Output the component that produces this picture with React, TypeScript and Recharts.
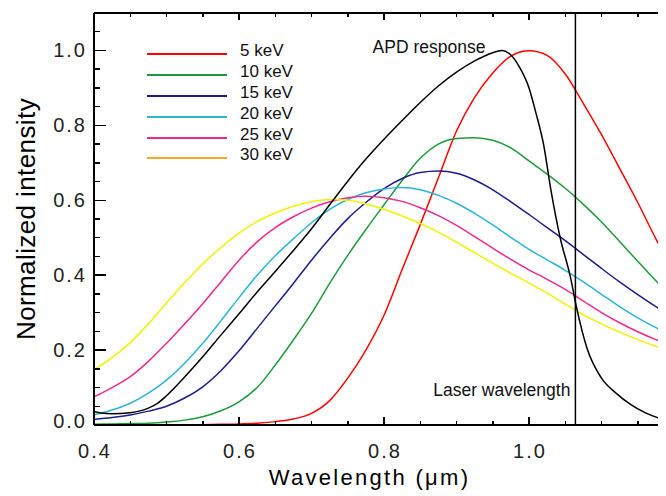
import React from "react";
import { LineChart, Line, XAxis, YAxis, ReferenceLine, ReferenceDot, Legend } from "recharts";

// wavelength grid (µm) for the X-ray spectra
const wavelengths = [0.4, 0.425, 0.45, 0.475, 0.5, 0.525, 0.55, 0.575, 0.6, 0.625, 0.65, 0.675, 0.7, 0.725, 0.75, 0.775, 0.8, 0.825, 0.85, 0.875, 0.9, 0.925, 0.95, 0.975, 1.0, 1.025, 1.05, 1.075, 1.1, 1.125, 1.15, 1.175, 1.2];

const kev5 = [0, 0, 0, 0, 0, 0, 0.001, 0.002, 0.003, 0.005, 0.009, 0.016, 0.031, 0.065, 0.125, 0.2, 0.293, 0.415, 0.535, 0.66, 0.785, 0.875, 0.94, 0.985, 0.999, 0.987, 0.937, 0.858, 0.775, 0.685, 0.594, 0.497, 0.405];
const kev10 = [0.002, 0.003, 0.004, 0.005, 0.008, 0.013, 0.022, 0.038, 0.062, 0.1, 0.16, 0.227, 0.298, 0.378, 0.453, 0.522, 0.588, 0.653, 0.712, 0.75, 0.765, 0.767, 0.76, 0.74, 0.705, 0.67, 0.632, 0.589, 0.542, 0.49, 0.437, 0.385, 0.335];
const kev15 = [0.015, 0.02, 0.027, 0.037, 0.05, 0.072, 0.102, 0.145, 0.198, 0.258, 0.318, 0.378, 0.44, 0.498, 0.551, 0.594, 0.631, 0.658, 0.674, 0.678, 0.672, 0.654, 0.628, 0.596, 0.562, 0.527, 0.492, 0.455, 0.418, 0.382, 0.348, 0.316, 0.288];
const kev20 = [0.027, 0.04, 0.058, 0.085, 0.12, 0.165, 0.218, 0.278, 0.34, 0.4, 0.452, 0.497, 0.54, 0.576, 0.602, 0.62, 0.63, 0.634, 0.628, 0.613, 0.592, 0.565, 0.534, 0.501, 0.469, 0.441, 0.413, 0.382, 0.349, 0.316, 0.286, 0.26, 0.238];
const kev25 = [0.075, 0.1, 0.129, 0.17, 0.218, 0.27, 0.324, 0.382, 0.44, 0.489, 0.527, 0.556, 0.579, 0.596, 0.607, 0.611, 0.607, 0.597, 0.58, 0.559, 0.533, 0.503, 0.472, 0.442, 0.414, 0.389, 0.362, 0.331, 0.3, 0.273, 0.249, 0.228, 0.21];
const kev30 = [0.147, 0.18, 0.22, 0.27, 0.326, 0.38, 0.43, 0.474, 0.512, 0.543, 0.566, 0.584, 0.596, 0.602, 0.6, 0.59, 0.576, 0.558, 0.538, 0.515, 0.488, 0.46, 0.432, 0.405, 0.379, 0.352, 0.323, 0.294, 0.27, 0.248, 0.228, 0.21, 0.192];

// APD response has its own sampling
const apdWavelengths = [0.4, 0.41, 0.425, 0.45, 0.475, 0.487, 0.5, 0.525, 0.55, 0.575, 0.6, 0.625, 0.65, 0.675, 0.7, 0.725, 0.75, 0.775, 0.8, 0.825, 0.85, 0.875, 0.9, 0.925, 0.95, 0.962, 0.975, 0.987, 1.0, 1.01, 1.02, 1.03, 1.043, 1.057, 1.066, 1.08, 1.1, 1.12, 1.14, 1.16, 1.18, 1.2];
const apdResponse = [0.036, 0.032, 0.03, 0.033, 0.045, 0.057, 0.078, 0.128, 0.182, 0.24, 0.297, 0.355, 0.41, 0.466, 0.524, 0.588, 0.651, 0.71, 0.763, 0.813, 0.861, 0.905, 0.942, 0.972, 0.994, 1.0, 0.988, 0.955, 0.9, 0.83, 0.75, 0.63, 0.5, 0.396, 0.31, 0.205, 0.125, 0.085, 0.055, 0.033, 0.018, 0.01];
const apdPeak = 0.962;
const laserWavelength = 1.064;

const seriesNames = ["5 keV", "10 keV", "15 keV", "20 keV", "25 keV", "30 keV"];
const seriesValues = [kev5, kev10, kev15, kev20, kev25, kev30];
const lineColors = ["#ff0000", "#1e9a3c", "#1c1c8a", "#2ab4d6", "#f0288c", "#f2f200"];
const legendColors = ["#ff0000", "#1e9a3c", "#1c1c8a", "#2ab4d6", "#f0288c", "#f8a828"];

// labelled ticks
const xLabelTicks = [0.4, 0.6, 0.8, 1.0];
const yLabelTicks = [0, 0.2, 0.4, 0.6, 0.8, 1.0];
// tick marks on the frame: every 0.05, long every 0.2
const xTickMarks = [0.4, 0.45, 0.5, 0.55, 0.6, 0.65, 0.7, 0.75, 0.8, 0.85, 0.9, 0.95, 1.0, 1.05, 1.1, 1.15, 1.2];
const yTickMarks = [0, 0.05, 0.1, 0.15, 0.2, 0.25, 0.3, 0.35, 0.4, 0.45, 0.5, 0.55, 0.6, 0.65, 0.7, 0.75, 0.8, 0.85, 0.9, 0.95, 1.0, 1.05];

const spectra = wavelengths.map((w, i) => {
  const row: Record<string, number> = { w };
  seriesValues.forEach((vals, s) => {
    row[`s${s}`] = vals[i];
  });
  return row;
});
const apdData = apdWavelengths.map((w, i) => ({ w, apd: apdResponse[i] }));

const font = "'Liberation Sans', Arial, Helvetica, sans-serif";
const X_DOMAIN: [number, number] = [0.4, 1.2];
const Y_DOMAIN: [number, number] = [0, 1.1];
const W = 680;
const H = 488;
const MARGIN = { top: 5, right: 14, bottom: 31, left: 26 };
const X_AXIS_H = 40;
const Y_AXIS_W = 60;
const PLOT_LEFT = MARGIN.left + Y_AXIS_W;
const PLOT_TOP = MARGIN.top;
const PLOT_W = W - MARGIN.left - MARGIN.right - Y_AXIS_W;
const PLOT_H = H - MARGIN.top - MARGIN.bottom - X_AXIS_H;

const isMajor = (v: number) => Math.abs(v / 0.2 - Math.round(v / 0.2)) < 1e-6;
const xPos = (v: number) => PLOT_LEFT + ((v - X_DOMAIN[0]) / (X_DOMAIN[1] - X_DOMAIN[0])) * PLOT_W;
const yPos = (v: number) => PLOT_TOP + ((Y_DOMAIN[1] - v) / (Y_DOMAIN[1] - Y_DOMAIN[0])) * PLOT_H;

// inward frame ticks (IDL style) drawn as a thin overlay on the plot frame
const FrameTicks = () => {
  const marks: React.ReactNode[] = [];
  const bar = (key: string, left: number, top: number, width: number, height: number) =>
    marks.push(<div key={key} style={{ position: "absolute", left, top, width, height, background: "#000" }} />);
  xTickMarks.forEach((v) => {
    const x = xPos(v) - 0.75;
    const major = isMajor(v);
    bar(`b${v}`, x, PLOT_TOP + PLOT_H - (major ? 8 : 4), 1.5, major ? 8 : 4);
    bar(`t${v}`, x, PLOT_TOP, 1.5, major ? 7 : 3.5);
  });
  yTickMarks.forEach((v) => {
    const y = yPos(v) - 0.75;
    const len = isMajor(v) ? 12 : 6;
    bar(`l${v}`, PLOT_LEFT, y, len, 1.5);
    bar(`r${v}`, PLOT_LEFT + PLOT_W - len, y, len, 1.5);
  });
  return <div style={{ position: "absolute", left: 0, top: 0, width: W, height: H, pointerEvents: "none" }}>{marks}</div>;
};

const XTickLabel = (props: any) => (
  <text x={props.x + 1} y={props.y + 33} textAnchor="middle" fontFamily={font} fontSize={20} letterSpacing={2} fill="#222">
    {Number(props.payload.value).toFixed(1)}
  </text>
);

const YTickLabel = (props: any) => (
  <text x={props.x - 7} y={props.y + (props.payload.value === 0 ? 3 : 7)} textAnchor="end" fontFamily={font} fontSize={20} letterSpacing={2} fill="#222">
    {Number(props.payload.value).toFixed(1)}
  </text>
);

const LegendBox = () => (
  <div style={{ fontFamily: font, fontSize: 17, color: "#111" }}>
    {seriesNames.map((name, i) => (
      <div key={name} style={{ display: "flex", alignItems: "center", height: 20.8 }}>
        <span
          style={{
            display: "inline-block",
            width: 80,
            borderTop: `2px solid ${legendColors[i]}`,
            marginRight: 13,
            position: "relative",
            top: 3,
          }}
        />
        <span>{name}</span>
      </div>
    ))}
  </div>
);

const xTitle = (props: any) => {
  const vb = props.viewBox;
  return (
    <text x={vb.x + vb.width * 0.475} y={vb.y + 60} textAnchor="middle" fontFamily={font} fontSize={22} letterSpacing={2.3} fill="#000">
      Wavelength (μm)
    </text>
  );
};

const yTitle = (props: any) => {
  const vb = props.viewBox;
  const x = vb.x + 1;
  const y = vb.y + vb.height / 2;
  return (
    <text x={x} y={y} transform={`rotate(-90 ${x} ${y})`} textAnchor="middle" fontFamily={font} fontSize={26} letterSpacing={0.4} fill="#000">
      Normalized intensity
    </text>
  );
};

const laserLabel = (props: any) => {
  const vb = props.viewBox;
  return (
    <text x={vb.x - 5} y={vb.y + vb.height - 29} textAnchor="end" fontFamily={font} fontSize={17.5} fill="#111">
      Laser wavelength
    </text>
  );
};

const apdLabel = (props: any) => {
  const vb = props.viewBox;
  return (
    <text x={vb.x - 16} y={vb.y + 2.5} textAnchor="end" fontFamily={font} fontSize={17.5} fill="#111">
      APD response
    </text>
  );
};

export default function App() {
  return (
    <div style={{ width: 658, height: 488, overflow: "hidden", position: "relative" }}>
      <LineChart width={W} height={H} data={spectra} margin={MARGIN}>
        <XAxis
          dataKey="w"
          type="number"
          domain={X_DOMAIN}
          allowDataOverflow
          ticks={xLabelTicks}
          interval={0}
          height={X_AXIS_H}
          tickSize={0}
          tickMargin={0}
          tick={<XTickLabel />}
          axisLine={{ stroke: "#000", strokeWidth: 2 }}
          tickLine={false}
          label={xTitle}
        />
        <YAxis
          type="number"
          domain={Y_DOMAIN}
          allowDataOverflow
          ticks={yLabelTicks}
          interval={0}
          width={Y_AXIS_W}
          tickSize={0}
          tickMargin={0}
          tick={<YTickLabel />}
          axisLine={{ stroke: "#000", strokeWidth: 2 }}
          tickLine={false}
          label={yTitle}
        />

        <Legend
          layout="vertical"
          align="center"
          verticalAlign="middle"
          content={() => <LegendBox />}
          wrapperStyle={{ position: "absolute", top: 33, left: 139, width: "auto", height: "auto" }}
        />

        {/* top and right edges of the frame */}
        <ReferenceLine y={Y_DOMAIN[1]} stroke="#000" strokeWidth={2} />
        <ReferenceLine x={X_DOMAIN[1]} stroke="#000" strokeWidth={2} />

        {seriesNames.map((name, i) => (
          <Line
            key={name}
            name={name}
            dataKey={`s${i}`}
            type="monotone"
            stroke={lineColors[i]}
            strokeWidth={1.5}
            dot={false}
            isAnimationActive={false}
          />
        ))}
        <Line
          data={apdData}
          dataKey="apd"
          name="APD response"
          type="monotone"
          stroke="#000"
          strokeWidth={1.5}
          dot={false}
          legendType="none"
          isAnimationActive={false}
        />

        <ReferenceLine x={laserWavelength} stroke="#000" strokeWidth={1.5} label={laserLabel} />
        <ReferenceDot x={apdPeak} y={1.0} r={0} fill="none" stroke="none" label={apdLabel} />
      </LineChart>
      <FrameTicks />
    </div>
  );
}
